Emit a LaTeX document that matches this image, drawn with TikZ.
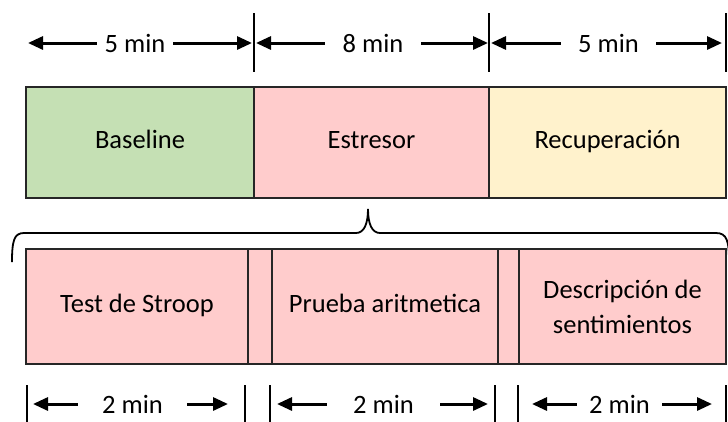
\documentclass[tikz,border=0pt]{standalone}
\usepackage{fontspec}
\setmainfont{Carlito}
\usetikzlibrary{arrows.meta}

\definecolor{basegreen}{HTML}{C5E0B4}
\definecolor{stresspink}{HTML}{FFCCCC}
\definecolor{recovyellow}{HTML}{FFF2CC}

\tikzset{
	phase/.style={draw=black!85, line width=1.5pt, inner sep=0pt, minimum height=111pt, font=\fontsize{26.5}{31}\selectfont},
	task/.style={phase, fill=stresspink, minimum height=115pt},
	oneline/.style={text height=17pt, text depth=6pt},
	timelbl/.style={inner sep=0pt, minimum height=20pt, font=\fontsize{26.5}{31}\selectfont},
	arr/.style={line width=3pt, -{Triangle[length=15pt,width=13pt]}},
	tick/.style={line width=1.4pt}
}

\begin{document}
\begin{tikzpicture}[x=1pt,y=-1pt]
		\useasboundingbox (0,0) rectangle (728,421);
		\clip (0,0) rectangle (728,421);

		% the three phases
		\node[phase, oneline, fill=basegreen, minimum width=228pt] (baseline) at (140,142.5) {Baseline};
		\node[phase, oneline, fill=stresspink, minimum width=235pt] (estresor) at (371.5,142.5) {Estresor};
		\node[phase, oneline, fill=recovyellow, minimum width=237pt] (recup) at (607.5,142.5) {Recuperación};

		% durations on top
		\draw[tick] (254,13) -- (254,72);
		\draw[tick] (489,13) -- (489,72);
		\draw[tick] (726,13) -- (726,72);
		\node[timelbl, minimum width=76pt] (t1) at (135,43) {5 min};
		\node[timelbl, minimum width=96pt] (t2) at (373,43) {8 min};
		\node[timelbl, minimum width=95pt] (t3) at (608.5,43) {5 min};
		\draw[arr] (t1.west) -- (28,43);
		\draw[arr] (t1.east) -- (252,43);
		\draw[arr] (t2.west) -- (256,43);
		\draw[arr] (t2.east) -- (488,43);
		\draw[arr] (t3.west) -- (491,43);
		\draw[arr] (t3.east) -- (722,43);

		% brace under Estresor
		\draw[line width=1.8pt] (12,262) .. controls (12,241) and (14,233) .. (24,233) -- (356,233)
			.. controls (364,233) and (368,224) .. (368,209) .. controls (368,224) and (372,233) .. (380,233)
			-- (716,233) .. controls (727,233) and (729,241) .. (729,262);

		% tasks inside the stressor
		\node[task, oneline, minimum width=222pt] (stroop) at (137,306.5) {Test de Stroop};
		\node[task, minimum width=24pt] (gapA) at (260,306.5) {};
		\node[task, oneline, minimum width=226pt] (aritm) at (385,306.5) {Prueba aritmetica};
		\node[task, minimum width=21pt] (gapB) at (508.5,306.5) {};
		\node[task, minimum width=207pt, align=center] (descr) at (622.5,306.5) {Descripción de\\[4pt]sentimientos};

		% durations below
		\foreach \x in {27,245,270,495,518,726}
			\draw[tick] (\x,385) -- (\x,425);
		\foreach \c/\w/\l/\r in {132.5/109/33/228, 383.5/113/277/488, 619.5/85/532/712} {
			\node[timelbl, minimum width=\w pt] (b\l) at (\c,404) {2 min};
			\draw[arr] (b\l.west) -- (\l,404);
			\draw[arr] (b\l.east) -- (\r,404);
		}
	\end{tikzpicture}
\end{document}
